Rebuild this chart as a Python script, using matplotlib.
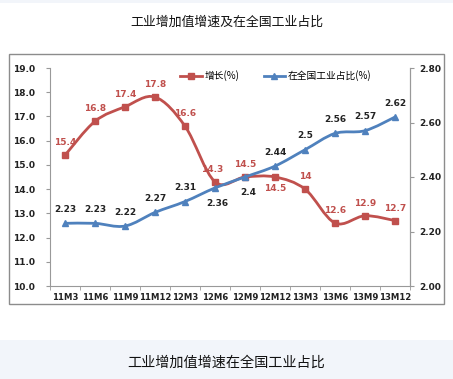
import numpy as np
import matplotlib
matplotlib.use("Agg")
import matplotlib.pyplot as plt
from matplotlib.path import Path
from matplotlib.patches import PathPatch, Rectangle

plt.rcParams['font.family'] = ['Noto Sans CJK SC', 'DejaVu Sans']

# data
periods = ['11M3', '11M6', '11M9', '11M12', '12M3', '12M6',
           '12M9', '12M12', '13M3', '13M6', '13M9', '13M12']
growth = [15.4, 16.8, 17.4, 17.8, 16.6, 14.3, 14.5, 14.5, 14, 12.6, 12.9, 12.7]
share = [2.23, 2.23, 2.22, 2.27, 2.31, 2.36, 2.4, 2.44, 2.5, 2.56, 2.57, 2.62]
growth_labels = ['15.4', '16.8', '17.4', '17.8', '16.6', '14.3',
                 '14.5', '14.5', '14', '12.6', '12.9', '12.7']
share_labels = ['2.23', '2.23', '2.22', '2.27', '2.31', '2.36',
                '2.4', '2.44', '2.5', '2.56', '2.57', '2.62']

RED = '#c0504d'
BLUE = '#4f81bd'
NUMFONT = dict(family='DejaVu Sans', fontweight='bold', fontsize=6.5)


def smooth_path(xs, ys):
    # Catmull-Rom style bezier through the points (like Excel smoothed lines)
    pts = np.column_stack([xs, ys]).astype(float)
    verts = [pts[0]]
    codes = [Path.MOVETO]
    n = len(pts)
    for i in range(n - 1):
        p0 = pts[max(i - 1, 0)]
        p1 = pts[i]
        p2 = pts[i + 1]
        p3 = pts[min(i + 2, n - 1)]
        c1 = p1 + (p2 - p0) / 6.0
        c2 = p2 - (p3 - p1) / 6.0
        verts += [c1, c2, p2]
        codes += [Path.CURVE4] * 3
    return Path(verts, codes)


fig = plt.figure(figsize=(4.53, 3.79), dpi=100)

# background strips
fig.patches.append(Rectangle((0, 1 - 3 / 379), 1, 3 / 379, transform=fig.transFigure,
                             facecolor='#f2f5fa', edgecolor='none', zorder=-5))
fig.patches.append(Rectangle((0, 0), 1, 39 / 379, transform=fig.transFigure,
                             facecolor='#f2f5fa', edgecolor='none', zorder=-5))
# chart frame
fig.patches.append(Rectangle((9 / 453, 1 - 304 / 379), 435 / 453, 250 / 379,
                             transform=fig.transFigure, facecolor='white',
                             edgecolor='#8c8c8c', linewidth=1.0, zorder=-5))

fig.text(0.5, 1 - 22 / 379, '工业增加值增速及在全国工业占比', ha='center', va='center',
         fontsize=9.3, color='#111111')
fig.text(0.5, 1 - 363 / 379, '工业增加值增速在全国工业占比', ha='center', va='center',
         fontsize=10.2, color='#111111')

ax = fig.add_axes([50 / 453, 1 - 286 / 379, 360 / 453, 218 / 379])
ax2 = ax.twinx()
ax.patch.set_alpha(0)
ax2.patch.set_alpha(0)

x = np.arange(len(periods))

# red series
ax.add_patch(PathPatch(smooth_path(x, growth), facecolor='none', edgecolor=RED,
                       linewidth=2.0, zorder=3))
ax.plot(x, growth, linestyle='none', marker='s', markersize=4.5, color=RED, zorder=4)
below_g = {7}
for i, (v, t) in enumerate(zip(growth, growth_labels)):
    dx = -2 if i == 5 else 0
    if i in below_g:
        ax.annotate(t, (i, v), xytext=(0, -8), textcoords='offset points',
                    ha='center', va='center', color=RED, **NUMFONT)
    else:
        ax.annotate(t, (i, v), xytext=(dx, 9), textcoords='offset points',
                    ha='center', va='center', color=RED, **NUMFONT)

# blue series
ax2.add_patch(PathPatch(smooth_path(x, share), facecolor='none', edgecolor=BLUE,
                        linewidth=2.0, zorder=3))
ax2.plot(x, share, linestyle='none', marker='^', markersize=4.5, color=BLUE, zorder=4)
below_s = {5, 6}
for i, (v, t) in enumerate(zip(share, share_labels)):
    if i in below_s:
        ax2.annotate(t, (i, v), xytext=(2, -11), textcoords='offset points',
                     ha='center', va='center', color='#222222', **NUMFONT)
    else:
        ax2.annotate(t, (i, v), xytext=(0, 10), textcoords='offset points',
                     ha='center', va='center', color='#222222', **NUMFONT)

ax.set_xlim(-0.5, len(periods) - 0.5)
ax.set_ylim(10, 19)
ax2.set_ylim(2.0, 2.8)
ax.set_yticks(np.arange(10, 19.5, 1.0))
ax.set_yticklabels(['%.1f' % v for v in np.arange(10, 19.5, 1.0)], **NUMFONT)
ax2.set_yticks(np.arange(2.0, 2.81, 0.2))
ax2.set_yticklabels(['%.2f' % v for v in np.arange(2.0, 2.81, 0.2)], **NUMFONT)

ax.set_xticks(x)
ax.set_xticklabels(periods, family='DejaVu Sans', fontweight='bold', fontsize=6.1)
ax.set_xticks(np.arange(-0.5, len(periods), 1.0), minor=True)
ax.tick_params(axis='x', which='major', length=0, pad=5, colors='#222222')
ax.tick_params(axis='x', which='minor', length=3, color='#999999')
ax.tick_params(axis='y', length=3, color='#999999', colors='#222222', pad=8)
ax2.tick_params(axis='y', length=3, color='#999999', colors='#222222', pad=4)
for lab in ax.get_yticklabels() + ax2.get_yticklabels():
    lab.set_color('#222222')

for a in (ax, ax2):
    a.spines['top'].set_visible(False)
    for s in ('left', 'right', 'bottom'):
        a.spines[s].set_color('#999999')
        a.spines[s].set_linewidth(0.8)
ax2.spines['left'].set_visible(False)
ax2.spines['bottom'].set_visible(False)

# legend
h1 = ax.plot([], [], color=RED, marker='s', markersize=4.5, linewidth=2.0)[0]
h2 = ax.plot([], [], color=BLUE, marker='^', markersize=4.5, linewidth=2.0)[0]
fig.legend([h1, h2], ['增长(%)', '在全国工业占比(%)'], ncol=2, frameon=False,
           loc='center', bbox_to_anchor=(276 / 453, 1 - 76 / 379), fontsize=7,
           handlelength=2.2, columnspacing=2.5, handletextpad=0.3)

fig.savefig('out.png', dpi=100)
